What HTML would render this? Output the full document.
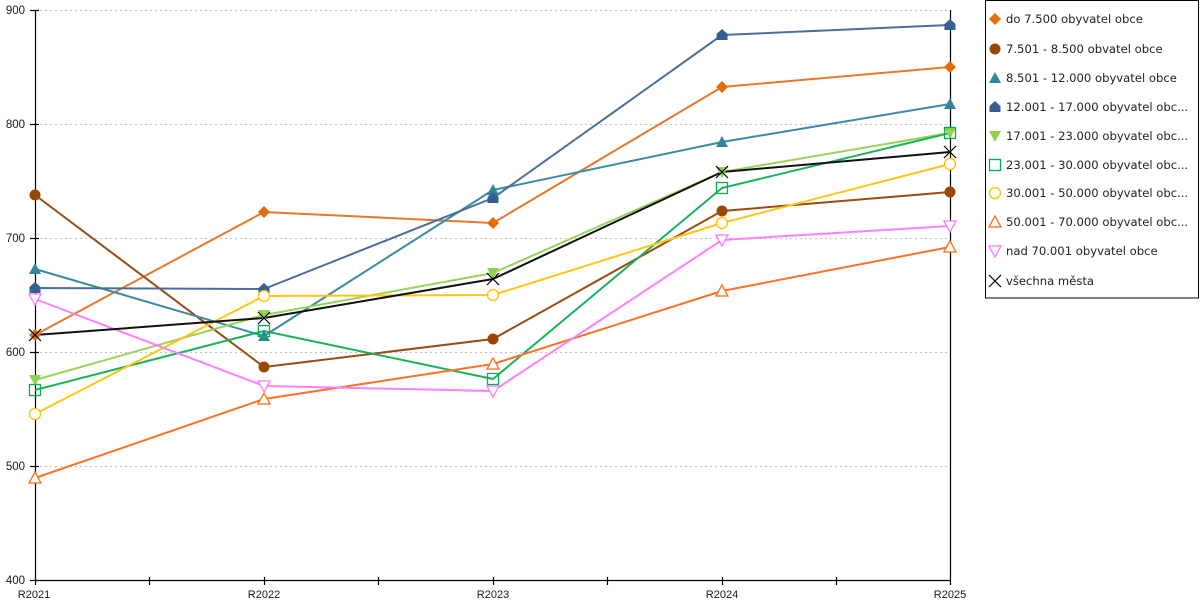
<!DOCTYPE html>
<html><head><meta charset="utf-8"><style>
html,body{margin:0;padding:0;background:#fff;}
svg{display:block;}
text{font-family:"DejaVu Sans","Liberation Sans",sans-serif;fill:#222;}
.ax{font-family:"Liberation Sans","DejaVu Sans",sans-serif;fill:#1a1a1a;}
</style></head><body>
<svg width="1200" height="600" viewBox="0 0 1200 600" xmlns="http://www.w3.org/2000/svg">
<defs>
<g id="mDia"><polygon points="0,-6 6,0 0,6 -6,0"/></g>
<g id="mCir"><circle r="5.5"/></g>
<g id="mTri"><polygon points="0,-6 6,5 -6,5"/></g>
<g id="mHouse"><polygon points="0,-6 5.5,-1 5.5,5 -5.5,5 -5.5,-1"/></g>
<g id="mDown"><polygon points="-6,-5 6,-5 0,6"/></g>
<g id="mSq"><rect x="-5.5" y="-5.5" width="11" height="11"/></g>
<g id="mOCir"><circle r="5.5"/></g>
<g id="mOTri"><polygon points="0,-6 6,5 -6,5"/></g>
<g id="mODown"><polygon points="-6,-5 6,-5 0,6"/></g>
<g id="mX"><path d="M-6,-6L6,6M-6,6L6,-6"/></g>
</defs>
<!-- grid -->
<g stroke="#c0c0c0" stroke-width="1" stroke-dasharray="2,3">
<line x1="40" y1="10.5" x2="950" y2="10.5"/>
<line x1="40" y1="124.5" x2="950" y2="124.5"/>
<line x1="40" y1="238.5" x2="950" y2="238.5"/>
<line x1="40" y1="352.5" x2="950" y2="352.5"/>
<line x1="40" y1="466.5" x2="950" y2="466.5"/>
</g>
<!-- axes -->
<g stroke="#000" stroke-width="1.2" fill="none">
<line x1="35.5" y1="10" x2="35.5" y2="585"/>
<line x1="35" y1="580.5" x2="950" y2="580.5"/>
<line x1="950.5" y1="10" x2="950.5" y2="585"/>
<line x1="30" y1="10.5" x2="39" y2="10.5"/>
<line x1="30" y1="124.5" x2="39" y2="124.5"/>
<line x1="30" y1="238.5" x2="39" y2="238.5"/>
<line x1="30" y1="352.5" x2="39" y2="352.5"/>
<line x1="30" y1="466.5" x2="39" y2="466.5"/>
<line x1="30" y1="580.5" x2="39" y2="580.5"/>
<line x1="149.5" y1="577" x2="149.5" y2="585"/>
<line x1="264.5" y1="577" x2="264.5" y2="585"/>
<line x1="378.5" y1="577" x2="378.5" y2="585"/>
<line x1="493.5" y1="577" x2="493.5" y2="585"/>
<line x1="607.5" y1="577" x2="607.5" y2="585"/>
<line x1="722.5" y1="577" x2="722.5" y2="585"/>
<line x1="836.5" y1="577" x2="836.5" y2="585"/>
</g>
<!-- axis labels -->
<g class="ax" font-size="11.5" text-anchor="end">
<text class="ax" x="25" y="14">900</text>
<text class="ax" x="25" y="128">800</text>
<text class="ax" x="25" y="242">700</text>
<text class="ax" x="25" y="356">600</text>
<text class="ax" x="25" y="470">500</text>
<text class="ax" x="25" y="584">400</text>
</g>
<g class="ax" font-size="11" text-anchor="middle">
<text class="ax" x="34" y="598">R2021</text>
<text class="ax" x="264" y="598">R2022</text>
<text class="ax" x="493" y="598">R2023</text>
<text class="ax" x="722" y="598">R2024</text>
<text class="ax" x="950" y="598">R2025</text>
</g>
<!-- series lines -->
<g fill="none" stroke-width="2" stroke-linejoin="round">
<polyline stroke="#e8782a" points="35,335 264,212 493,223 722,87 950,67"/>
<polyline stroke="#9a4c10" points="35,195 264,367 493,339 722,211 950,192"/>
<polyline stroke="#3b8ba3" points="35,269 264,336 493,190 722,142 950,104"/>
<polyline stroke="#4a6e9c" points="35,288 264,289 493,198 722,35 950,25"/>
<polyline stroke="#98d35a" points="35,380 264,315 493,273 722,172 950,133"/>
<polyline stroke="#1ab35a" points="35,390 264,331 493,379 722,188 950,133"/>
<polyline stroke="#ffc61a" points="35,414 264,296 493,295 722,223 950,164"/>
<polyline stroke="#ff7228" points="35,478 264,399 493,364 722,291 950,247"/>
<polyline stroke="#ff80ff" points="35,299 264,386 493,391 722,240 950,226"/>
<polyline stroke="#111" points="35,335 264,318 493,279 722,172 950,152"/>
</g>
<!-- markers -->
<g fill="#e46c0a">
<use href="#mDia" x="35" y="335"/><use href="#mDia" x="264" y="212"/><use href="#mDia" x="493" y="223"/><use href="#mDia" x="722" y="87"/><use href="#mDia" x="950" y="67"/>
</g>
<g fill="#974706">
<use href="#mCir" x="35" y="195"/><use href="#mCir" x="264" y="367"/><use href="#mCir" x="493" y="339"/><use href="#mCir" x="722" y="211"/><use href="#mCir" x="950" y="192"/>
</g>
<g fill="#31859c">
<use href="#mTri" x="35" y="269"/><use href="#mTri" x="264" y="336"/><use href="#mTri" x="493" y="190"/><use href="#mTri" x="722" y="142"/><use href="#mTri" x="950" y="104"/>
</g>
<g fill="#376092">
<use href="#mHouse" x="35" y="288"/><use href="#mHouse" x="264" y="289"/><use href="#mHouse" x="493" y="198"/><use href="#mHouse" x="722" y="35"/><use href="#mHouse" x="950" y="25"/>
</g>
<g fill="#92d050">
<use href="#mDown" x="35" y="380"/><use href="#mDown" x="264" y="315"/><use href="#mDown" x="493" y="273"/><use href="#mDown" x="722" y="172"/><use href="#mDown" x="950" y="133"/>
</g>
<g fill="none" stroke="#00b050" stroke-width="1.3">
<use href="#mSq" x="35" y="390"/><use href="#mSq" x="264" y="331"/><use href="#mSq" x="493" y="379"/><use href="#mSq" x="722" y="188"/><use href="#mSq" x="950" y="133"/>
</g>
<g fill="#fff" stroke="#ffc000" stroke-width="1.3">
<use href="#mOCir" x="35" y="414"/><use href="#mOCir" x="264" y="296"/><use href="#mOCir" x="493" y="295"/><use href="#mOCir" x="722" y="223"/><use href="#mOCir" x="950" y="164"/>
</g>
<g fill="#fff" stroke="#ff6a13" stroke-width="1.3">
<use href="#mOTri" x="35" y="478"/><use href="#mOTri" x="264" y="399"/><use href="#mOTri" x="493" y="364"/><use href="#mOTri" x="722" y="291"/><use href="#mOTri" x="950" y="247"/>
</g>
<g fill="#fff" stroke="#ff77ff" stroke-width="1.3">
<use href="#mODown" x="35" y="299"/><use href="#mODown" x="264" y="386"/><use href="#mODown" x="493" y="391"/><use href="#mODown" x="722" y="240"/><use href="#mODown" x="950" y="226"/>
</g>
<g fill="none" stroke="#000" stroke-width="1.2">
<use href="#mX" x="35" y="335"/><use href="#mX" x="264" y="318"/><use href="#mX" x="493" y="279"/><use href="#mX" x="722" y="172"/><use href="#mX" x="950" y="152"/>
</g>
<!-- legend -->
<rect x="985.5" y="0.5" width="213" height="297.5" fill="#fff" stroke="#000" stroke-width="1"/>
<use href="#mDia" x="995" y="19" fill="#e46c0a"/>
<use href="#mCir" x="995" y="49" fill="#974706"/>
<use href="#mTri" x="995" y="78" fill="#31859c"/>
<use href="#mHouse" x="995" y="107" fill="#376092"/>
<use href="#mDown" x="995" y="136" fill="#92d050"/>
<use href="#mSq" x="995" y="165" fill="none" stroke="#00b050" stroke-width="1.3"/>
<use href="#mOCir" x="995" y="193" fill="#fff" stroke="#ffc000" stroke-width="1.3"/>
<use href="#mOTri" x="995" y="222" fill="#fff" stroke="#ff6a13" stroke-width="1.3"/>
<use href="#mODown" x="995" y="251" fill="#fff" stroke="#ff77ff" stroke-width="1.3"/>
<use href="#mX" x="995" y="281" fill="none" stroke="#000" stroke-width="1.2"/>
<g font-size="11.6">
<text x="1006" y="23">do 7.500 obyvatel obce</text>
<text x="1006" y="53">7.501 - 8.500 obvatel obce</text>
<text x="1006" y="82">8.501 - 12.000 obyvatel obce</text>
<text x="1006" y="111">12.001 - 17.000 obyvatel obc...</text>
<text x="1006" y="140">17.001 - 23.000 obyvatel obc...</text>
<text x="1006" y="169">23.001 - 30.000 obyvatel obc...</text>
<text x="1006" y="197">30.001 - 50.000 obyvatel obc...</text>
<text x="1006" y="226">50.001 - 70.000 obyvatel obc...</text>
<text x="1006" y="255">nad 70.001 obyvatel obce</text>
<text x="1006" y="285">všechna města</text>
</g>
</svg>
</body></html>
